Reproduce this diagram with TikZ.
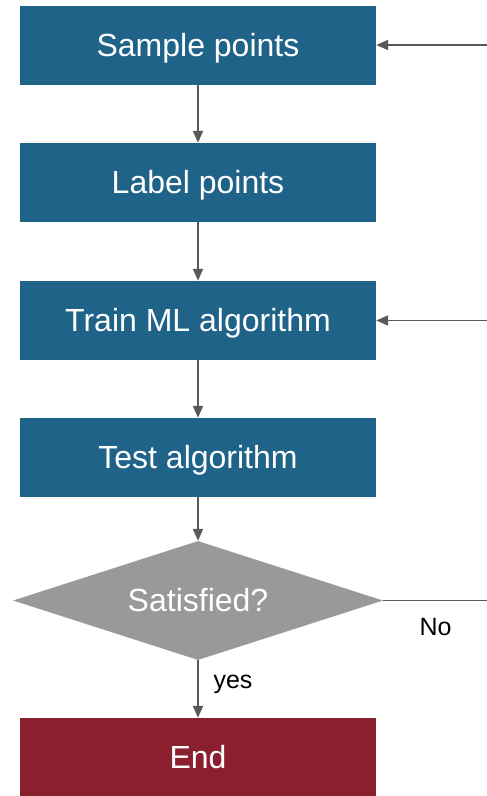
\documentclass[tikz,border=0pt]{standalone}
\usepackage{fontspec}
\setmainfont{Liberation Sans}
\usetikzlibrary{shapes.geometric,arrows.meta}
\definecolor{stepblue}{HTML}{1F6389}
\definecolor{decgray}{HTML}{999999}
\definecolor{endred}{HTML}{8A1F2E}
\definecolor{linegray}{HTML}{595959}
\tikzset{
  boxfont/.style={font=\fontsize{32}{38}\selectfont, text height=22.9pt, text depth=0pt},
  stepbox/.style={rectangle, fill=stepblue, text=white, minimum width=356pt, minimum height=79pt, inner sep=0pt, boxfont},
  endbox/.style={stepbox, fill=endred},
  decision/.style={diamond, shape aspect=3.1, fill=decgray, text=white, minimum width=370pt, minimum height=119pt, inner sep=0pt, boxfont},
  flow/.style={draw=linegray, line width=1.8pt, -{Triangle[length=12pt,width=10pt]}},
  plainline/.style={draw=linegray, line width=1.8pt},
  lbl/.style={font=\fontsize{25}{30}\selectfont, text=black, inner sep=0pt, anchor=base}
}
\begin{document}
\begin{tikzpicture}[x=1pt,y=-1pt]
  \useasboundingbox (0,0) rectangle (487,796);
  \node[stepbox] (sample) at (198,45) {Sample points};
  \node[stepbox] (label) at (198,182.5) {Label points};
  \node[stepbox] (train) at (198,320.5) {Train ML algorithm};
  \node[stepbox] (test) at (198,457.5) {Test algorithm};
  \node[decision] (sat) at (198,600.5) {Satisfied?};
  \node[endbox] (end) at (198,757.5) {End};

  \coordinate (inA) at (487,45);
  \coordinate (inB) at (487,320.5);
  \coordinate (outNo) at (487,600.5);

  \draw[flow] (sample) -- (label);
  \draw[flow] (label) -- (train);
  \draw[flow] (train) -- (test);
  \draw[flow] (test) -- (sat);
  \draw[flow] (sat) -- (end);
  \draw[flow] (inA) -- (sample);
  \draw[flow] (inB) -- (train);
  \draw[plainline] (sat.east) -- (outNo);

  \node[lbl] (no) at (435.5,635) {No};
  \node[lbl] (yes) at (233,688) {yes};
\end{tikzpicture}
\end{document}
